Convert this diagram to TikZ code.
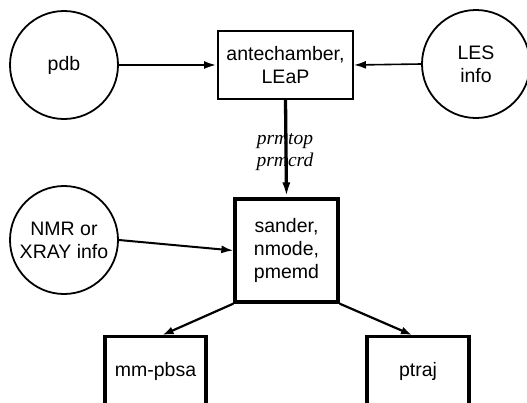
\documentclass[tikz,border=0pt]{standalone}
\usepackage{fontspec}
\setmainfont{Liberation Sans}
\newfontfamily\serifit{Liberation Serif}
\usetikzlibrary{arrows.meta,calc}
\begin{document}
\begin{tikzpicture}[x=1pt,y=-1pt,
  every node/.style={font=\fontsize{19.5}{23}\selectfont, align=center},
  blob/.style={draw, circle, line width=1.8pt, minimum size=108pt, inner sep=0pt},
  prog/.style={draw, rectangle, inner sep=0pt},
  tip/.style={-{Latex[length=#1,width=8pt]}},
  tip/.default=13pt,
  lbl/.style={font=\fontsize{19.5}{22}\selectfont\serifit\itshape, inner sep=0pt}
]
\useasboundingbox (0,0) rectangle (527,402);
\clip (0,0) rectangle (527,402);
\fill[white] (0,0) rectangle (527,402);

\node[blob] (pdb) at (64,65) {pdb};
\node[blob] (les) at (476,64) {LES\\info};
\node[blob] (nmr) at (64,240) {NMR or\\XRAY info};

\node[prog, line width=2pt, minimum width=135pt, minimum height=68pt] (ante) at (285.5,65) {antechamber,\\LEaP};
\node[prog, line width=3.3pt, minimum width=103pt, minimum height=103pt] (sander) at (286.5,250.5) {sander,\\nmode,\\pmemd};
\node[prog, line width=3.3pt, minimum width=101pt, anchor=north, text height=40pt, text depth=40pt] (mm) at (155.5,335) {mm-pbsa};
\node[prog, line width=3.3pt, minimum width=102pt, anchor=north, text height=40pt, text depth=40pt] (pt) at (418,335) {ptraj};

\node[lbl] (files) at (285,152) {prmtop\\prmcrd};

\draw[line width=2.6pt, tip] (pdb.east) -- (ante.west);
\draw[line width=1.6pt, tip=12pt] (les.west) -- (ante.east);
\draw[line width=3.3pt, tip=15pt] (ante.south) -- (sander.north);
\draw[line width=2pt, tip=12pt] (nmr.east) -- (sander.west);
\draw[line width=2.2pt, tip=11pt] (sander.south west) -- ($(mm.north)+(7,0)$);
\draw[line width=2.2pt, tip=11pt] (sander.south east) -- ($(pt.north)+(-6,0)$);
\end{tikzpicture}
\end{document}
